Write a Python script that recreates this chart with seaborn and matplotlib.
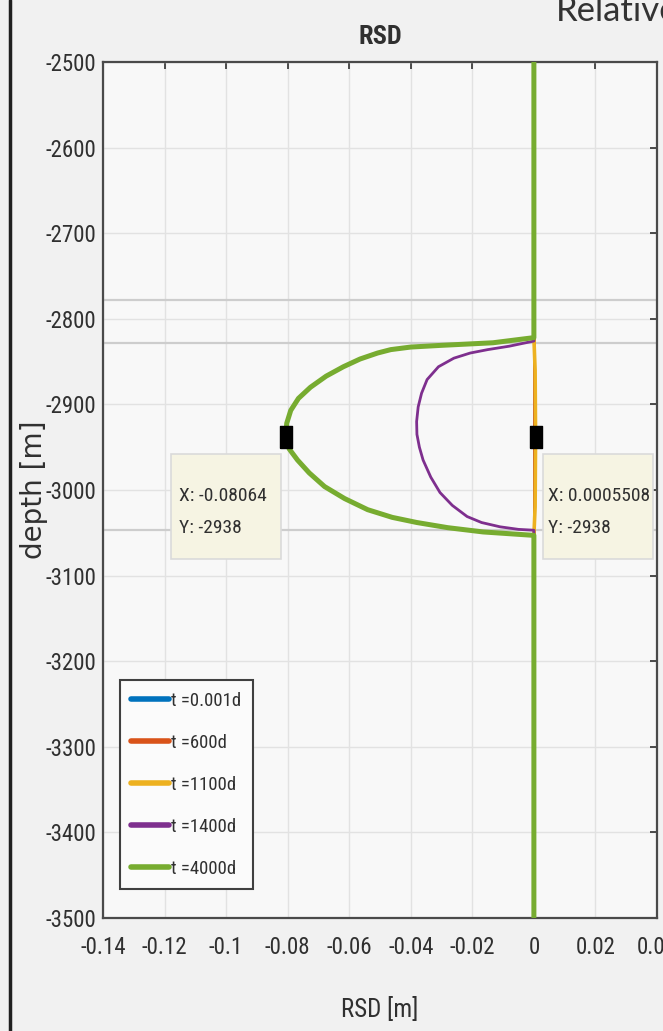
import matplotlib
matplotlib.use("Agg")
import matplotlib.pyplot as plt
from matplotlib import font_manager
from matplotlib.patches import Rectangle
from matplotlib.lines import Line2D
from matplotlib.transforms import IdentityTransform
import seaborn as sns

# ---- data -------------------------------------------------------------
time_labels = ["t =0.001d", "t =600d", "t =1100d", "t =1400d", "t =4000d"]
line_colors = ["#0072BD", "#D95319", "#EDB120", "#7E2F8E", "#77AC30"]
line_widths = [2.0, 2.0, 2.6, 2.0, 3.6]

# RSD (m) vs depth (m) for each time step
depth_0001 = [-2500, -3500]
rsd_0001 = [0.0, 0.0]

depth_600 = [-2500, -3500]
rsd_600 = [0.0, 0.0]

depth_1100 = [-2500, -2822, -2860, -2938, -3020, -3053, -3500]
rsd_1100 = [0.0, 0.0, 0.0004, 0.0005508, 0.0004, 0.0, 0.0]

depth_1400 = [-2500, -2826, -2832, -2836, -2840, -2846, -2856, -2871, -2887,
              -2903, -2920, -2935, -2950, -2965, -2985, -3003, -3018, -3031,
              -3038, -3043, -3046, -3047, -3500]
rsd_1400 = [0.0, 0.0, -0.008, -0.015, -0.0207, -0.026, -0.031, -0.0347,
            -0.0365, -0.0376, -0.0381, -0.0380, -0.0372, -0.036, -0.0335,
            -0.0305, -0.0265, -0.0217, -0.017, -0.011, -0.005, 0.0, 0.0]

depth_4000 = [-2500, -2822, -2828, -2831, -2833, -2836, -2840, -2847, -2856,
              -2867, -2880, -2893, -2907, -2922, -2938, -2952, -2965, -2980,
              -2996, -3010, -3023, -3032, -3038, -3044, -3049, -3053, -3500]
rsd_4000 = [0.0, 0.0, -0.0133, -0.030, -0.040, -0.0465, -0.0508, -0.0565,
            -0.0619, -0.0675, -0.0726, -0.0765, -0.079, -0.0803, -0.08064,
            -0.0795, -0.0768, -0.073, -0.068, -0.0615, -0.054, -0.046,
            -0.038, -0.028, -0.0165, 0.0, 0.0]

profiles = [(rsd_0001, depth_0001), (rsd_600, depth_600), (rsd_1100, depth_1100),
            (rsd_1400, depth_1400), (rsd_4000, depth_4000)]

# data tips
tip_x = [-0.08064, 0.0005508]
tip_y = [-2938, -2938]

# layer boundaries
boundary_depths = [-2778, -2828, -3047]

# axes ticks
x_ticks = [-0.14, -0.12, -0.10, -0.08, -0.06, -0.04, -0.02, 0.0, 0.02, 0.04]
x_tick_labels = ["-0.14", "-0.12", "-0.1", "-0.08", "-0.06", "-0.04",
                 "-0.02", "0", "0.02", "0.04"]
y_ticks = [-3500, -3400, -3300, -3200, -3100, -3000, -2900, -2800,
           -2700, -2600, -2500]
y_tick_labels = [str(v) for v in y_ticks]

# ---- style ------------------------------------------------------------
sns.set_theme(style="whitegrid")
installed = {f.name for f in font_manager.fontManager.ttflist}
condensed = [n for n in ["Liberation Sans Narrow", "DejaVu Sans Condensed",
                         "Roboto Condensed", "Open Sans Condensed"] if n in installed]
if condensed:
    main_font = condensed[0]
    scale = 1.0
else:
    main_font = "Liberation Sans"
    scale = 0.88
plt.rcParams["font.family"] = [main_font, "DejaVu Sans"]
text_col = "#303030"

W, H = 663, 1031
fig = plt.figure(figsize=(W / 100, H / 100), dpi=100)
fig.patch.set_facecolor("#f1f1f1")
ax = fig.add_axes([103 / W, 1 - 918 / H, (657 - 103) / W, (918 - 62) / H])
ax.set_facecolor("#f8f8f8")

for (rsd, dep), lab, col, lw in zip(profiles, time_labels, line_colors, line_widths):
    sns.lineplot(x=rsd, y=dep, sort=False, estimator=None, color=col,
                 linewidth=lw, label=lab, ax=ax, zorder=3)

for d in boundary_depths:
    ax.axhline(d, color="#cdcdcd", lw=1.6, zorder=1)

ax.set_xlim(-0.14, 0.04)
ax.set_ylim(-3500, -2500)
ax.set_xticks(x_ticks, x_tick_labels)
ax.set_yticks(y_ticks, y_tick_labels)
ax.grid(True, color="#e2e2e2", lw=1.0)
ax.tick_params(direction="in", length=5, width=1.2, color=text_col,
               top=True, right=True, labelsize=16.5 * scale, labelcolor=text_col)
ax.tick_params(axis="x", pad=13)
ax.tick_params(axis="y", pad=5)
for s in ax.spines.values():
    s.set_color("#4a4a4a")
    s.set_linewidth(1.6)

ax.set_title("RSD", fontsize=19 * scale, fontweight="bold", color=text_col, pad=13)
ax.set_xlabel("RSD [m]", fontsize=18 * scale, color=text_col, labelpad=27)
ax.set_ylabel("depth [m]", fontsize=20, color=text_col,
              family=["DejaVu Sans"])
ax.yaxis.set_label_coords(-0.1, 0.5)

leg = ax.legend(loc="lower left", bbox_to_anchor=(0.031, 0.034),
                fontsize=13.5 * scale, frameon=True, fancybox=False,
                handlelength=2.0, handletextpad=0.12, labelspacing=1.28,
                borderpad=0.6, borderaxespad=0)
leg.get_frame().set_edgecolor("#404040")
leg.get_frame().set_linewidth(1.5)
leg.get_frame().set_facecolor("#fbfbfb")
leg.get_frame().set_alpha(1)
for ln in leg.get_lines():
    ln.set_linewidth(4)
for t in leg.get_texts():
    t.set_color(text_col)

# data tips: marker, cream box and X/Y readout
ax.plot(tip_x, tip_y, ls="none", color="black", ms=16, zorder=6,
        marker=[(-0.55, -1), (0.55, -1), (0.55, 1), (-0.55, 1), (-0.55, -1)])
box_dx = [-115, 7]
text_dx = [-107, 12]
for x, y, bdx, tdx in zip(tip_x, tip_y, box_dx, text_dx):
    px, py = ax.transData.transform((x, y))
    box = Rectangle((px + bdx, py - 122), 110, 105, transform=IdentityTransform(),
                    facecolor="#f6f4e3", edgecolor="#dadada", lw=1.2, zorder=4)
    ax.add_artist(box)
    ax.annotate(f"X: {x:.4g}\nY: {y:.4g}", xy=(x, y), xytext=(tdx, -75),
                textcoords="offset pixels", ha="left", va="center",
                fontsize=14 * scale, color=text_col, linespacing=2.05, zorder=7)

# slide frame and heading
fig.add_artist(Line2D([10 / W, 10 / W], [0, 1], transform=fig.transFigure,
                      color="#202020", lw=2.5))
fig.text(556 / W, 1 - 21 / H, "Relative", fontsize=25, color="#333333",
         ha="left", va="baseline", family=["Lato", "DejaVu Sans"])

fig.savefig("out.png", dpi=100, facecolor=fig.get_facecolor())
